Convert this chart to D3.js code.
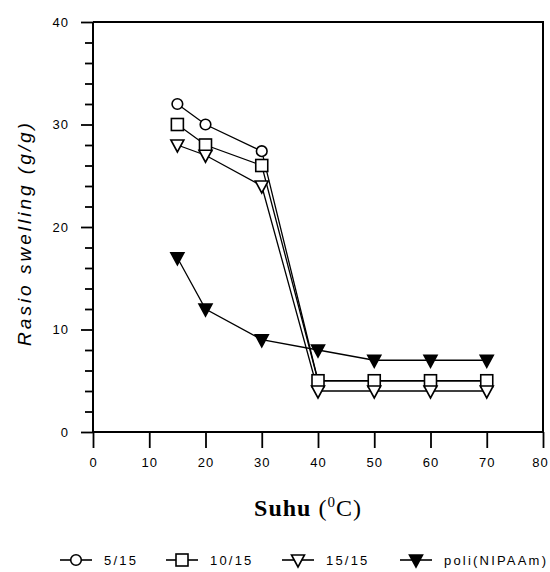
<!DOCTYPE html>
<html>
<head>
<meta charset="utf-8">
<script src="https://cdn.jsdelivr.net/npm/d3@7"></script>
<style>
  body { margin: 0; background: #fff; }
  svg { display: block; }
</style>
</head>
<body>
<div id="chart"></div>
<script>
// temperature (C) on x, swelling ratio (g/g) on y
const temps = [15, 20, 30, 40, 50, 60, 70];
const ratio5_15 = [32, 30, 27.4, 5, 5, 5, 5];
const ratio10_15 = [30, 28, 26, 5, 5, 5, 5];
const ratio15_15 = [28, 27, 24, 4, 4, 4, 4];
const ratioPoli = [17, 12, 9, 8, 7, 7, 7];

const seriesNames = ["5/15", "10/15", "15/15", "poli(NIPAAm)"];
const seriesShapes = ["circle", "square", "triangle", "filledTriangle"];
const xTicks = [0, 10, 20, 30, 40, 50, 60, 70, 80];
const yTicks = [0, 10, 20, 30, 40];

const width = 550, height = 572;
const margin = { top: 22, right: 7, bottom: 140, left: 93 };

const svg = d3.select("#chart").append("svg")
  .attr("width", width)
  .attr("height", height);

const x = d3.scaleLinear().domain([0, 80]).range([margin.left, width - margin.right]);
const y = d3.scaleLinear().domain([0, 40]).range([height - margin.bottom, margin.top]);

const series = [ratio5_15, ratio10_15, ratio15_15, ratioPoli].map((vals, i) => ({
  name: seriesNames[i],
  shape: seriesShapes[i],
  points: temps.map((t, j) => ({ t: t, v: vals[j] }))
}));

// marker drawing, centred on (0,0)
function marker(g, shape) {
  if (shape === "circle") {
    g.append("circle").attr("r", 5.3)
      .attr("fill", "#fff").attr("stroke", "#000").attr("stroke-width", 1.6);
  } else if (shape === "square") {
    g.append("rect").attr("x", -6).attr("y", -6).attr("width", 12).attr("height", 12)
      .attr("fill", "#fff").attr("stroke", "#000").attr("stroke-width", 1.6);
  } else {
    g.append("path").attr("d", "M-6.5,-5L6.5,-5L0,7Z")
      .attr("fill", shape === "filledTriangle" ? "#000" : "#fff")
      .attr("stroke", "#000").attr("stroke-width", 1.6)
      .attr("stroke-linejoin", "miter");
  }
}

const font = "Arial, 'Liberation Sans', sans-serif";

// ----- frame (top + right) -----
svg.append("path")
  .attr("d", `M${x(0)},${y(40)}H${x(80)}V${y(0)}`)
  .attr("fill", "none").attr("stroke", "#000").attr("stroke-width", 2);

// ----- axes -----
const xAxis = svg.append("g")
  .attr("transform", `translate(0,${y(0)})`)
  .call(d3.axisBottom(x).tickValues(xTicks).tickSize(16).tickPadding(10).tickFormat(d3.format("d")));

const yMinor = svg.append("g")
  .attr("transform", `translate(${x(0)},0)`)
  .call(d3.axisLeft(y).tickValues(d3.range(0, 41, 2).filter(d => d % 10 !== 0)).tickSize(8).tickFormat(""));

const yAxis = svg.append("g")
  .attr("transform", `translate(${x(0)},0)`)
  .call(d3.axisLeft(y).tickValues(yTicks).tickSize(12).tickPadding(12).tickFormat(d3.format("d")));

[xAxis, yAxis, yMinor].forEach(a => {
  a.select(".domain").attr("stroke-width", 2).attr("d", a === xAxis
    ? `M${x(0)},0H${x(80)}` : `M0,${y(40)}V${y(0)}`);
  a.selectAll(".tick line").attr("stroke-width", 1.8);
  a.selectAll("text")
    .style("font-family", font)
    .style("font-size", "13px")
    .style("letter-spacing", "1px")
    .attr("fill", "#000");
});
yMinor.select(".domain").remove();
// keep the last x label inside the picture
xAxis.selectAll(".tick text").filter(d => d === 80).attr("dx", -3);

// ----- lines + markers -----
const line = d3.line().x(d => x(d.t)).y(d => y(d.v));

series.forEach(s => {
  svg.append("path")
    .datum(s.points)
    .attr("d", line)
    .attr("fill", "none")
    .attr("stroke", "#000")
    .attr("stroke-width", 1.3);
});

series.forEach(s => {
  s.points.forEach(p => {
    const g = svg.append("g").attr("transform", `translate(${x(p.t)},${y(p.v)})`);
    marker(g, s.shape);
  });
});

// ----- axis titles -----
svg.append("text")
  .attr("transform", `translate(31,${(y(0) + y(40)) / 2 + 6}) rotate(-90)`)
  .attr("text-anchor", "middle")
  .style("font-family", font)
  .style("font-style", "italic")
  .style("font-size", "19px")
  .style("letter-spacing", "3px")
  .text("Rasio swelling (g/g)");

const xt = svg.append("text")
  .attr("x", 308)
  .attr("y", 516)
  .attr("text-anchor", "middle")
  .style("font-family", "'Liberation Serif', 'Times New Roman', serif")
  .style("font-size", "24px")
  .style("letter-spacing", "1px");
xt.append("tspan").style("font-weight", "bold").text("Suhu ");
xt.append("tspan").text("(");
xt.append("tspan").attr("dy", -9).style("font-size", "15px").text("0");
xt.append("tspan").attr("dy", 9).text("C)");

// ----- legend -----
const legendX = [60, 166, 282, 400];
const legendY = 560;
seriesNames.forEach((name, i) => {
  const g = svg.append("g").attr("transform", `translate(${legendX[i]},${legendY})`);
  g.append("line").attr("x1", 0).attr("x2", 32)
    .attr("stroke", "#000").attr("stroke-width", 1.6);
  const m = g.append("g").attr("transform", "translate(16,0)");
  marker(m, seriesShapes[i]);
  g.append("text")
    .attr("x", 44)
    .attr("dy", "0.36em")
    .style("font-family", font)
    .style("font-size", "13px")
    .style("letter-spacing", "2.2px")
    .text(name);
});
</script>
</body>
</html>
